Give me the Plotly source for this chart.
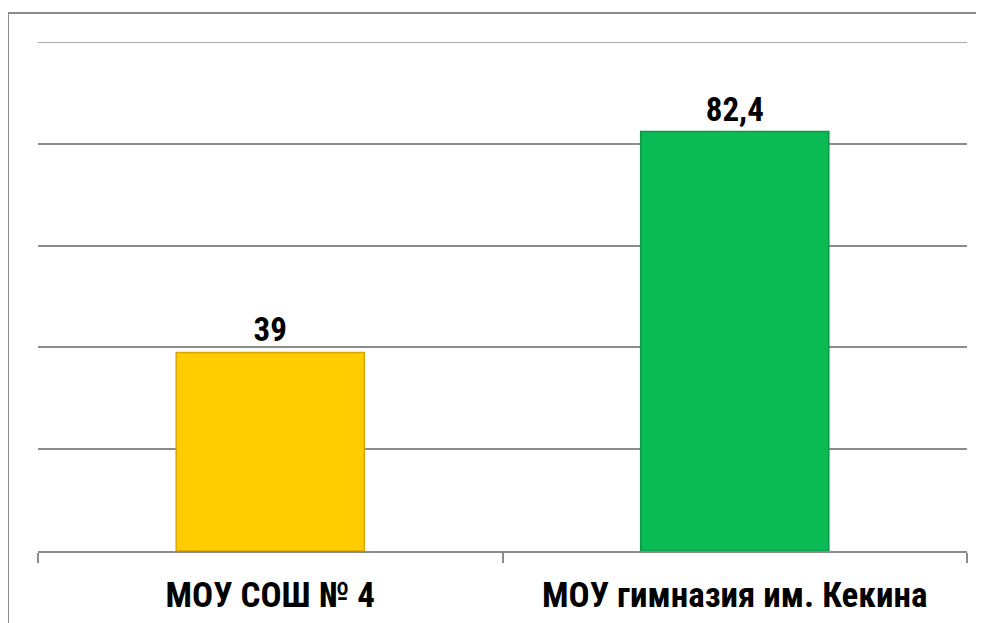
import plotly.graph_objects as go

categories = ["МОУ СОШ № 4", "МОУ гимназия им. Кекина"]
values = [39, 82.4]
colors = ["#FFCC00", "#0ABA55"]
edge_colors = ["#D9A400", "#079A44"]
y_max = 100

FONT = "Liberation Sans Narrow, Arial Narrow, Roboto Condensed, Liberation Sans, Arial, sans-serif"

fig = go.Figure(
    go.Bar(
        x=categories,
        y=values,
        marker=dict(color=colors, line=dict(color=edge_colors, width=1.5)),
        texttemplate="%{y}",
        textposition="outside",
        textfont=dict(family=FONT, size=33, color="black", weight="bold"),
        cliponaxis=False,
        width=0.405,
    )
)

PW, PH = 929, 509
L, T = 30, 34

fig.update_layout(
    width=984,
    height=623,
    margin=dict(l=L, r=984 - L - PW, t=T, b=623 - T - PH),
    paper_bgcolor="white",
    plot_bgcolor="white",
    separators=", ",
    showlegend=False,
    font=dict(family=FONT, color="black"),
    shapes=[
        dict(
            type="rect", xref="paper", yref="paper",
            x0=-L / PW, x1=1.5, y0=-0.5, y1=1 + (T - 5) / PH,
            line=dict(color="#8a8a8a", width=2), fillcolor="rgba(0,0,0,0)",
            layer="below",
        ),
        dict(
            type="line", xref="paper", yref="y",
            x0=0, x1=1, y0=y_max, y1=y_max,
            line=dict(color="#8c8c8c", width=1.5),
            layer="below",
        ),
    ],
)

fig.update_yaxes(
    range=[0, y_max],
    dtick=20,
    showgrid=True,
    gridcolor="#8c8c8c",
    gridwidth=1.5,
    showticklabels=False,
    zeroline=False,
    showline=False,
    ticks="",
)

fig.update_xaxes(
    showline=True,
    linecolor="#8c8c8c",
    linewidth=1.5,
    ticks="outside",
    tickson="boundaries",
    ticklen=10,
    tickcolor="#8c8c8c",
    tickwidth=1.5,
    ticklabelstandoff=12,
    tickfont=dict(family=FONT, size=35, color="black", weight="bold"),
    showgrid=False,
)

fig.write_html("out.html")
